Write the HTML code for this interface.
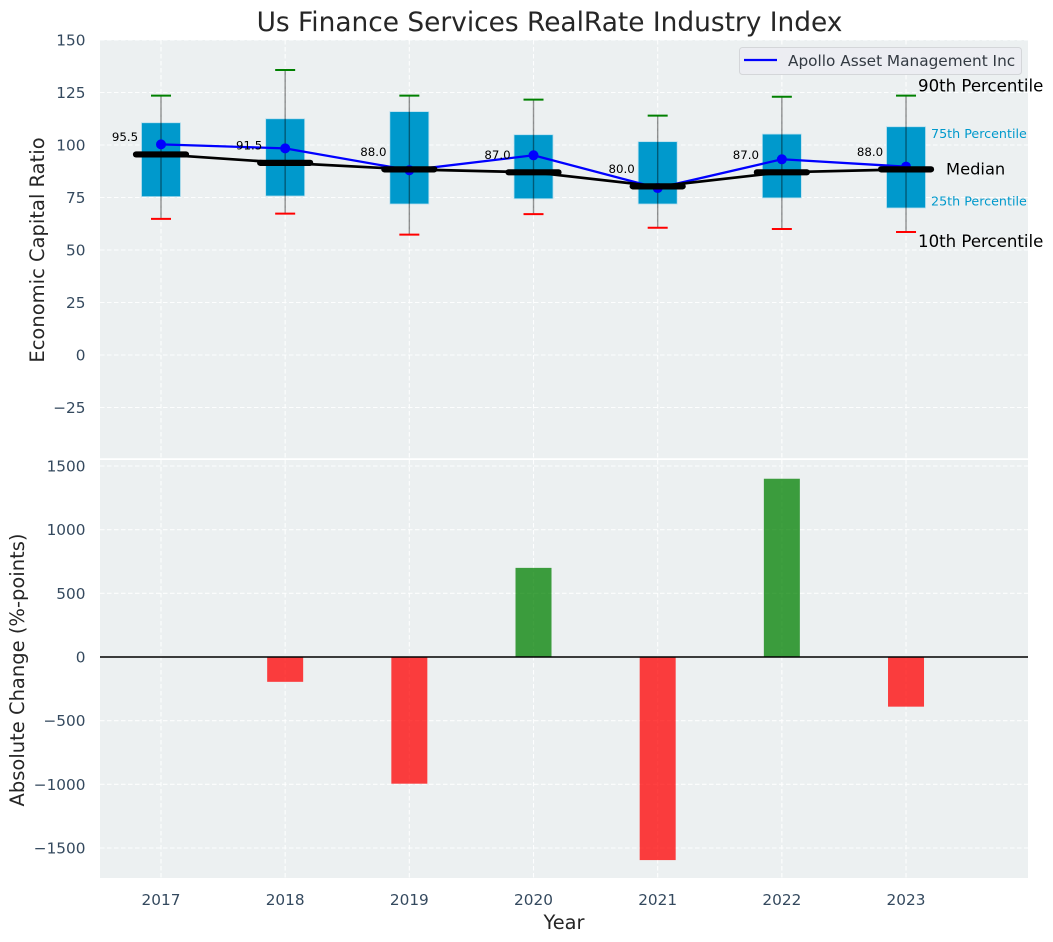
<!DOCTYPE html>
<html lang="en">
<head>
<meta charset="utf-8">
<title>Us Finance Services RealRate Industry Index</title>
<style>
html,body{margin:0;padding:0;background:#fff;}
svg{display:block;font-family:"DejaVu Sans","Liberation Sans",sans-serif;}
</style>
</head>
<body>
<svg id="chart" width="1053" height="942" viewBox="0 0 1053 942" xmlns="http://www.w3.org/2000/svg">
  <rect x="100" y="40" width="928" height="419" fill="#ecf0f1"/>
  <rect x="100" y="460" width="928" height="418" fill="#ecf0f1"/>
  <g id="grid"></g>
  <g id="boxes"></g>
  <g id="apollo"></g>
  <g id="medians"></g>
  <g id="bars"></g>
  <line x1="100" x2="1028" y1="459" y2="459" stroke="#ffffff" stroke-width="1.6"/>
  <g id="ticks" fill="#34495e" font-size="15.3"></g>
  <g id="annotations"></g>
  <text x="549.5" y="31" text-anchor="middle" font-size="26.4" fill="#262626">Us Finance Services RealRate Industry Index</text>
  <text transform="translate(44,250) rotate(-90)" text-anchor="middle" font-size="19.5" fill="#262626">Economic Capital Ratio</text>
  <text transform="translate(24,670) rotate(-90)" text-anchor="middle" font-size="19.5" fill="#262626">Absolute Change (%-points)</text>
  <text x="564" y="929" text-anchor="middle" font-size="19.4" fill="#262626">Year</text>
  <g>
    <rect x="739.5" y="47.5" width="282" height="27" rx="3" fill="#ecedf2" stroke="#d4d6d9" stroke-width="1"/>
    <line x1="744" x2="777" y1="60" y2="60" stroke="#0000ff" stroke-width="2.2"/>
    <text x="788" y="66" font-size="15.3" fill="#333a42">Apollo Asset Management Inc</text>
  </g>
</svg>
<script>
const years = [2017, 2018, 2019, 2020, 2021, 2022, 2023];
const p10 = [64.8, 67.3, 57.3, 67.1, 60.6, 60, 58.6];
const p25 = [75.4, 75.7, 71.9, 74.4, 71.9, 74.8, 70];
const medianValues = [95.5, 91.5, 88.4, 87, 80.3, 87, 88.4];
const medianLabels = [95.5, 91.5, 88, 87, 80, 87, 88];
const p75 = [110.6, 112.5, 115.9, 104.9, 101.6, 105.2, 108.7];
const p90 = [123.5, 135.7, 123.5, 121.6, 114, 123, 123.5];
const apolloValues = [100.3, 98.4, 88, 95.1, 79.5, 93.2, 89.7];
const changeValues = [0, -195, -995, 700, -1595, 1400, -390];
const topTicks = [150, 125, 100, 75, 50, 25, 0, -25];
const bottomTicks = [1500, 1000, 500, 0, -500, -1000, -1500];

const NS = 'http://www.w3.org/2000/svg';
function xScale(year) { return 161 + (year - 2017) * 124.17; }
function yTop(v) { return 355 - v * 2.1; }
function yBottom(v) { return 657 - v * 0.12733; }
function make(tag, attrs, parent, txt) {
  const el = document.createElementNS(NS, tag);
  for (const k in attrs) el.setAttribute(k, attrs[k]);
  if (txt !== undefined) el.textContent = txt;
  parent.appendChild(el);
  return el;
}
function minus(v) { return String(v).replace('-', '\u2212'); }

const gridG = document.getElementById('grid');
const tickG = document.getElementById('ticks');
const boxG = document.getElementById('boxes');
const apolloG = document.getElementById('apollo');
const medG = document.getElementById('medians');
const barG = document.getElementById('bars');
const annG = document.getElementById('annotations');
const gridStyle = {stroke:'#ffffff', 'stroke-width':1.1, 'stroke-dasharray':'4.5 2.5', 'stroke-opacity':0.9};

years.forEach(function (yr) {
  const x = xScale(yr);
  let el = make('line', Object.assign({x1:x, x2:x, y1:40, y2:459}, gridStyle), gridG);
  
  
  el = make('line', Object.assign({x1:x, x2:x, y1:460, y2:878}, gridStyle), gridG);
  
  
  el = make('text', {x:x, y:905, 'text-anchor':'middle'}, tickG, String(yr));
  
  
});

topTicks.forEach(function (v) {
  const y = yTop(v);
  let el = make('line', Object.assign({x1:100, x2:1028, y1:y, y2:y}, gridStyle), gridG);
  
  
  el = make('text', {x:85.5, y:y + 5.5, 'text-anchor':'end'}, tickG, minus(v));
  
  
});

bottomTicks.forEach(function (v) {
  const y = yBottom(v);
  let el = make('line', Object.assign({x1:100, x2:1028, y1:y, y2:y}, gridStyle), gridG);
  
  
  el = make('text', {x:85.5, y:y + 5.5, 'text-anchor':'end'}, tickG, minus(v));
  
  
});

years.forEach(function (yr, i) {
  const x = xScale(yr);
  let el = make('rect', {x:x - 19.5, y:yTop(p75[i]), width:39, height:yTop(p25[i]) - yTop(p75[i]), fill:'#0099cc', stroke:'#b8dfee', 'stroke-width':0.8}, boxG);
  
  
  el = make('line', {x1:x, x2:x, y1:yTop(p90[i]), y2:yTop(p10[i]), stroke:'#000000', 'stroke-opacity':0.42, 'stroke-width':1.4}, boxG);
  
  
  el = make('line', {x1:x - 10, x2:x + 10, y1:yTop(p90[i]), y2:yTop(p90[i]), stroke:'#008000', 'stroke-width':2}, boxG);
  
  
  el = make('line', {x1:x - 10, x2:x + 10, y1:yTop(p10[i]), y2:yTop(p10[i]), stroke:'#ff0000', 'stroke-width':2}, boxG);
  
  
});

const apolloPts = years.map(function (yr, i) { return xScale(yr) + ',' + yTop(apolloValues[i]); }).join(' ');
const apolloLine = make('polyline', {points:apolloPts, fill:'none', stroke:'#0000ff', 'stroke-width':2.3}, apolloG);


years.forEach(function (yr, i) {
  const el = make('circle', {cx:xScale(yr), cy:yTop(apolloValues[i]), r:5, fill:'#0000ff'}, apolloG);
  
  
});

const medPts = years.map(function (yr, i) { return xScale(yr) + ',' + yTop(medianValues[i]); }).join(' ');
const medLine = make('polyline', {points:medPts, fill:'none', stroke:'#000000', 'stroke-width':2.7}, medG);


years.forEach(function (yr, i) {
  const x = xScale(yr);
  const y = yTop(medianValues[i]);
  let el = make('line', {x1:x - 25, x2:x + 25, y1:y, y2:y, stroke:'#000000', 'stroke-width':6.2, 'stroke-linecap':'round'}, medG);
  
  
  el = make('text', {x:x - 36, y:y - 13.5, 'text-anchor':'middle', 'font-size':11.8, fill:'#000000'}, annG, medianLabels[i].toFixed(1));
  
  
});

years.forEach(function (yr, i) {
  const v = changeValues[i];
  if (v === 0) return;
  const y0 = yBottom(Math.max(v, 0));
  const y1 = yBottom(Math.min(v, 0));
  const el = make('rect', {x:xScale(yr) - 18, y:y0, width:36, height:y1 - y0, fill:v > 0 ? '#008000' : '#ff0000', 'fill-opacity':0.75}, barG);
  
  
});

const zeroLine = make('line', {x1:100, x2:1028, y1:yBottom(0), y2:yBottom(0), stroke:'#000000', 'stroke-width':1.5}, barG);



const last = years.length - 1;
const lastX = xScale(years[last]);
let note = make('text', {x:lastX + 12, y:yTop(p90[last]) - 4, 'font-size':16.6, fill:'#000000'}, annG, '90th Percentile');


note = make('text', {x:lastX + 25, y:yTop(p75[last]) + 11.5, 'font-size':12.7, fill:'#0099cc'}, annG, '75th Percentile');


note = make('text', {x:lastX + 40, y:yTop(medianValues[last]) + 5, 'font-size':16.3, fill:'#000000'}, annG, 'Median');


note = make('text', {x:lastX + 25, y:yTop(p25[last]) - 2.5, 'font-size':12.7, fill:'#0099cc'}, annG, '25th Percentile');


note = make('text', {x:lastX + 12, y:yTop(p10[last]) + 15, 'font-size':16.6, fill:'#000000'}, annG, '10th Percentile');


</script>
</body>
</html>
